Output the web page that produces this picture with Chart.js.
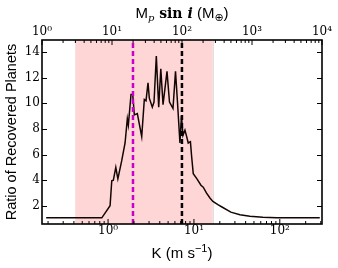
<!DOCTYPE html>
<html>
<head>
<meta charset="utf-8">
<script src="https://cdn.jsdelivr.net/npm/chart.js@4.4.0/dist/chart.umd.min.js"></script>
<style>
  html, body { margin: 0; padding: 0; background: #fff; }
  #wrap { width: 338px; height: 268px; }
</style>
</head>
<body>
<div id="wrap"><canvas id="grafico" width="338" height="268"></canvas></div>
<script>
// K (m/s) y ratio de planetas recuperados
const kValues = [0.19, 0.845, 1.055, 1.104, 1.152, 1.23, 1.30, 1.44, 1.577, 1.676, 1.722, 1.85, 1.937, 2.022, 2.191, 2.465, 2.643, 2.765, 2.918, 3.022, 3.274, 3.428, 3.646, 3.886, 4.112, 4.365, 4.856, 5.19, 5.70, 6.10, 6.43, 6.87, 7.16, 7.45, 7.86, 8.23, 8.58, 9.10, 9.40, 9.82, 10.84, 12.06, 12.83, 13.97, 15.35, 16.63, 19.0, 21.2, 26.9, 34.3, 44.8, 63.4, 92.2, 292];
const ratioValues = [1.05, 1.05, 2.0, 3.95, 4.0, 5.0, 4.1, 5.5, 6.9, 8.8, 8.3, 10.7, 10.7, 9.1, 9.2, 7.4, 10.3, 10.2, 11.6, 10.4, 9.7, 10.1, 13.7, 9.7, 12.7, 9.9, 12.5, 10.1, 9.6, 12.5, 10.1, 6.9, 9.0, 7.5, 7.9, 7.4, 6.9, 7.0, 5.85, 4.5, 4.1, 3.6, 3.45, 3.0, 2.6, 2.33, 2.08, 1.9, 1.5, 1.3, 1.17, 1.09, 1.06, 1.05];

// ejes
const kTicks = [1, 10, 100];
const massTicks = [1, 10, 100, 1000, 10000];
const ratioTicks = [2, 4, 6, 8, 10, 12, 14];
const kRange = [0.17, 310];
const massRange = [1, 10000];
const ratioRange = [0.57, 14.95];

// zona sombreada y lineas verticales (en K)
const shadeK = [0.414, 16.6];
const lineMagentaK = 1.95;
const lineBlackK = 7.25;

const supDigits = { "0": "\u2070", "1": "\u00b9", "2": "\u00b2", "3": "\u00b3", "4": "\u2074" };

function powLabel(v) {
  var e = Math.round(Math.log10(v));
  return "10" + String(e).split("").map(function (c) { return supDigits[c]; }).join("");
}

function minorTicks(min, max) {
  var out = [];
  for (var d = -3; d < 6; d++) {
    for (var m = 2; m <= 9; m++) {
      var v = m * Math.pow(10, d);
      if (v > min && v < max) out.push(v);
    }
  }
  return out;
}

const tickFont = { family: "DejaVu Serif", size: 12 };

// sombreado detras de las series
const shadePlugin = {
  id: "shade",
  beforeDatasetsDraw: function (chart) {
    var ctx = chart.ctx;
    var area = chart.chartArea;
    var x = chart.scales.x;
    var x0 = x.getPixelForValue(shadeK[0]);
    var x1 = x.getPixelForValue(shadeK[1]);
    ctx.save();
    ctx.fillStyle = "rgba(255, 0, 0, 0.16)";
    ctx.fillRect(x0, area.top, x1 - x0, area.bottom - area.top);
    ctx.strokeStyle = "rgba(0, 0, 0, 0.12)";
    ctx.lineWidth = 1;
    ctx.beginPath();
    ctx.moveTo(Math.round(x1) + 0.5, area.top);
    ctx.lineTo(Math.round(x1) + 0.5, area.bottom);
    ctx.stroke();
    ctx.restore();
  }
};

// marco y ticks hacia dentro
const framePlugin = {
  id: "frame",
  afterDatasetsDraw: function (chart) {
    var ctx = chart.ctx;
    var a = chart.chartArea;
    var sx = chart.scales.x, sx2 = chart.scales.x2, sy = chart.scales.y;
    ctx.save();
    ctx.strokeStyle = "#000";
    ctx.lineWidth = 1;
    ctx.beginPath();
    kTicks.forEach(function (v) {
      var p = sx.getPixelForValue(v);
      ctx.moveTo(p, a.bottom); ctx.lineTo(p, a.bottom - 5);
    });
    minorTicks(kRange[0], kRange[1]).forEach(function (v) {
      var p = sx.getPixelForValue(v);
      ctx.moveTo(p, a.bottom); ctx.lineTo(p, a.bottom - 3);
    });
    massTicks.forEach(function (v) {
      var p = sx2.getPixelForValue(v);
      ctx.moveTo(p, a.top); ctx.lineTo(p, a.top + 5);
    });
    minorTicks(massRange[0], massRange[1]).forEach(function (v) {
      var p = sx2.getPixelForValue(v);
      ctx.moveTo(p, a.top); ctx.lineTo(p, a.top + 3);
    });
    ratioTicks.forEach(function (v) {
      var p = Math.round(sy.getPixelForValue(v)) + 0.5;
      ctx.moveTo(a.left, p); ctx.lineTo(a.left + 5, p);
      ctx.moveTo(a.right, p); ctx.lineTo(a.right - 5, p);
    });
    ctx.stroke();
    ctx.lineWidth = 1.6;
    ctx.strokeRect(a.left, a.top, a.right - a.left, a.bottom - a.top);
    ctx.restore();
  }
};

// titulos con sub/superindices
function drawParts(ctx, parts, cx, baseline) {
  var total = 0;
  parts.forEach(function (p) { ctx.font = p.f; p.w = ctx.measureText(p.t).width; total += p.w; });
  var x = cx - total / 2;
  ctx.textBaseline = "alphabetic";
  ctx.textAlign = "left";
  parts.forEach(function (p) {
    ctx.font = p.f;
    ctx.fillText(p.t, x, baseline + p.dy);
    x += p.w;
  });
}

const titlesPlugin = {
  id: "titles",
  afterDraw: function (chart) {
    var ctx = chart.ctx;
    var a = chart.chartArea;
    var cx = (a.left + a.right) / 2;
    ctx.save();
    ctx.fillStyle = "#000";
    drawParts(ctx, [
      { t: "M", f: '15px "Liberation Sans"', dy: 0 },
      { t: "p", f: 'italic 10px "DejaVu Serif"', dy: 3 },
      { t: " sin ", f: 'bold 14px "DejaVu Serif"', dy: 0 },
      { t: "i", f: 'bold italic 14px "DejaVu Serif"', dy: 0 },
      { t: " (M", f: '15px "Liberation Sans"', dy: 0 },
      { t: "\u2295", f: '11px "DejaVu Sans"', dy: 3 },
      { t: ")", f: '15px "Liberation Sans"', dy: 0 }
    ], cx, 18);
    drawParts(ctx, [
      { t: "K (m s", f: '15px "Liberation Sans"', dy: 0 },
      { t: "\u22121", f: '11px "Liberation Sans"', dy: -6 },
      { t: ")", f: '15px "Liberation Sans"', dy: 0 }
    ], cx, 258);
    ctx.restore();
  }
};

const ctxGrafico = document.getElementById("grafico").getContext("2d");

const grafico = new Chart(ctxGrafico, {
  type: "scatter",
  data: {
    datasets: [
      {
        label: "ratio",
        data: kValues.map(function (k, i) { return { x: k, y: ratioValues[i] }; }),
        showLine: true,
        borderColor: "#140505",
        borderWidth: 1.5,
        pointRadius: 0,
        tension: 0,
        order: 1
      },
      {
        label: "M = 20",
        data: [{ x: lineMagentaK, y: ratioRange[0] }, { x: lineMagentaK, y: ratioRange[1] }],
        showLine: true,
        borderColor: "#c800c8",
        borderWidth: 2.5,
        borderDash: [5, 3],
        pointRadius: 0,
        order: 0
      },
      {
        label: "M = 100",
        data: [{ x: lineBlackK, y: ratioRange[0] }, { x: lineBlackK, y: ratioRange[1] }],
        showLine: true,
        borderColor: "#000",
        borderWidth: 2.5,
        borderDash: [5, 3],
        pointRadius: 0,
        order: 0
      }
    ]
  },
  options: {
    responsive: false,
    devicePixelRatio: 1,
    animation: false,
    layout: { padding: { left: 0, right: 16, top: 0, bottom: 0 } },
    plugins: { legend: { display: false }, tooltip: { enabled: false } },
    scales: {
      x: {
        type: "logarithmic",
        position: "bottom",
        min: kRange[0],
        max: kRange[1],
        afterBuildTicks: function (s) { s.ticks = kTicks.map(function (v) { return { value: v }; }); },
        afterFit: function (s) { s.height = 44; },
        grid: { display: false, drawTicks: false },
        border: { display: false },
        ticks: { font: tickFont, color: "#000", padding: 0, maxRotation: 0, autoSkip: false, callback: function (v) { return powLabel(v); } }
      },
      x2: {
        type: "logarithmic",
        position: "top",
        min: massRange[0],
        max: massRange[1],
        afterBuildTicks: function (s) { s.ticks = massTicks.map(function (v) { return { value: v }; }); },
        afterFit: function (s) { s.height = 40; },
        grid: { display: false, drawTicks: false },
        border: { display: false },
        ticks: { font: tickFont, color: "#000", padding: 1, maxRotation: 0, autoSkip: false, callback: function (v) { return powLabel(v); } }
      },
      y: {
        type: "linear",
        min: ratioRange[0],
        max: ratioRange[1],
        afterBuildTicks: function (s) { s.ticks = ratioTicks.map(function (v) { return { value: v }; }); },
        afterFit: function (s) { s.width = 42; },
        grid: { display: false, drawTicks: false },
        border: { display: false },
        ticks: { font: tickFont, color: "#000", padding: 2 },
        title: {
          display: true,
          text: "Ratio of Recovered Planets",
          color: "#000",
          font: { family: "Liberation Sans", size: 14.5 },
          padding: { top: 3, bottom: 0 }
        }
      }
    }
  },
  plugins: [shadePlugin, framePlugin, titlesPlugin]
});
</script>
</body>
</html>
